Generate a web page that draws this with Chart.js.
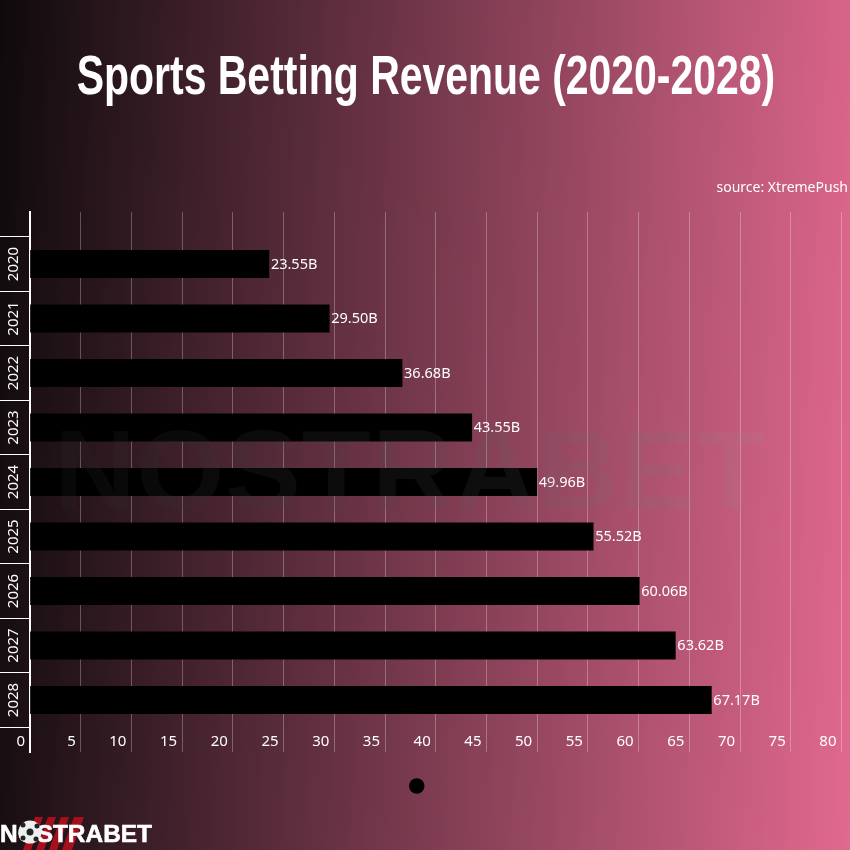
<!DOCTYPE html>
<html>
<head>
<meta charset="utf-8">
<script src="https://cdn.jsdelivr.net/npm/chart.js@4/dist/chart.umd.min.js"></script>
<style>
  html, body { margin: 0; padding: 0; }
  #page { position: relative; width: 850px; height: 850px; overflow: hidden;
          background: linear-gradient(93deg, #0e0a0c 0%, #e2698f 100%); }
  #grafico { position: absolute; left: 0; top: 0; }
  #titulo { position: absolute; left: -175px; width: 1202px; top: 40px; text-align: center; color: #fff;
            font: bold 56px "Liberation Sans", sans-serif; line-height: 70px; white-space: nowrap;
            transform: scaleX(0.731); }
  #fuente { position: absolute; right: 2px; top: 177px; color: #fff; font: 14px "Noto Sans", sans-serif; line-height: 20px; }
  #marca { position: absolute; left: 54px; top: 410px; white-space: nowrap;
           font: bold 113px "Liberation Sans", sans-serif; line-height: 120px; letter-spacing: 1px;
           color: transparent; -webkit-background-clip: text; background-clip: text;
           background-image: linear-gradient(90deg, rgba(40,40,40,0.2), rgba(150,150,150,0.12)); }
  #logo { position: absolute; left: 0; top: 817px; }
</style>
</head>
<body>
<div id="page">
  <canvas id="grafico" width="850" height="850"></canvas>
  <div id="titulo">Sports Betting Revenue (2020-2028)</div>
  <div id="fuente">source: XtremePush</div>
  <div id="marca">NOSTRABET</div>
  <svg id="logo" width="160" height="33" viewBox="0 0 160 33">
    <g fill="#a5101c">
      <polygon points="35,0 43,0 31,33 23,33"/><polygon points="48,0 56,0 44,33 36,33"/>
      <polygon points="61,0 69,0 57,33 49,33"/><polygon points="74,0 84,0 72,33 62,33"/>
    </g>
    <text x="0" y="25" fill="#fff" stroke="#fff" stroke-width="0.6" font-family="Liberation Sans" font-weight="bold" font-size="24" textLength="152" lengthAdjust="spacingAndGlyphs">NOSTRABET</text>
    <circle cx="30" cy="15" r="11.5" fill="#eee"/>
    <circle cx="30" cy="15" r="3.5" fill="#222"/><circle cx="23" cy="8" r="2.5" fill="#222"/>
    <circle cx="37" cy="9" r="2.5" fill="#222"/><circle cx="23" cy="21" r="2.5" fill="#222"/><circle cx="36" cy="22" r="2.5" fill="#222"/>
  </svg>
</div>
<script>
const anios = ['2020', '2021', '2022', '2023', '2024', '2025', '2026', '2027', '2028'];
const ingresos = [23.55, 29.50, 36.68, 43.55, 49.96, 55.52, 60.06, 63.62, 67.17];
const ticksX = [0, 5, 10, 15, 20, 25, 30, 35, 40, 45, 50, 55, 60, 65, 70, 75, 80];
const sufijo = 'B';

const fuenteTexto = '"Noto Sans", sans-serif';

// Etiquetas de valor al final de cada barra
const etiquetasBarras = {
    id: 'etiquetasBarras',
    afterDatasetsDraw(chart) {
        const ctx = chart.ctx;
        ctx.save();
        ctx.fillStyle = '#fff';
        ctx.font = '14.5px ' + fuenteTexto;
        ctx.textAlign = 'left';
        ctx.textBaseline = 'middle';
        chart.getDatasetMeta(0).data.forEach((barra, i) => {
            ctx.fillText(ingresos[i].toFixed(2) + sufijo, barra.x + 2, barra.y + 0.5);
        });
        ctx.restore();
    }
};

new Chart(document.getElementById('grafico'), {
    type: 'bar',
    data: {
        datasets: [{
            label: '',
            data: ingresos.map((v, i) => ({ x: v, y: i })),
            backgroundColor: '#000',
            barThickness: 27.5
        }]
    },
    options: {
        indexAxis: 'y',
        responsive: false,
        animation: false,
        layout: { padding: { left: 0, right: 8.5, top: 212, bottom: 46 } },
        plugins: {
            tooltip: { enabled: false },
            legend: {
                position: 'bottom',
                labels: {
                    usePointStyle: true,
                    boxWidth: 11,
                    boxHeight: 11,
                    padding: 26,
                    color: '#000',
                    font: { size: 16 }
                }
            }
        },
        scales: {
            x: {
                type: 'linear',
                position: 'bottom',
                min: 0,
                max: 80,
                afterFit(scale) { scale.height = 0; },
                afterBuildTicks(scale) { scale.ticks = ticksX.map(v => ({ value: v })); },
                border: { display: false },
                grid: { color: 'rgba(255,255,255,0.28)', lineWidth: 1, drawTicks: false },
                ticks: {
                    color: '#fff',
                    align: 'end',
                    mirror: true,
                    labelOffset: -5,
                    padding: 1,
                    maxRotation: 0,
                    autoSkip: false,
                    font: { size: 15, family: fuenteTexto }
                }
            },
            y: {
                type: 'linear',
                reverse: true,
                offset: false,
                min: -0.954,
                max: 8.954,
                afterFit(scale) { scale.width = 30; },
                // marcas en los limites de cada banda y etiqueta en el centro
                afterBuildTicks(scale) {
                    const marcas = [];
                    for (let i = 0; i < anios.length; i++) {
                        marcas.push({ value: i - 0.5 }, { value: i });
                    }
                    marcas.push({ value: anios.length - 0.5 });
                    scale.ticks = marcas;
                },
                border: { display: true, color: '#fff', width: 2 },
                grid: {
                    offset: false,
                    drawOnChartArea: false,
                    tickLength: 30,
                    tickWidth: 1,
                    tickColor: c => (c.tick && Number.isInteger(c.tick.value)) ? 'transparent' : '#fff'
                },
                ticks: {
                    color: '#fff',
                    minRotation: 90,
                    maxRotation: 90,
                    crossAlign: 'center',
                    padding: -31,
                    autoSkip: false,
                    font: { size: 15, family: fuenteTexto },
                    callback: v => Number.isInteger(v) ? anios[v] : ''
                }
            }
        }
    },
    plugins: [etiquetasBarras]
});
</script>
</body>
</html>
